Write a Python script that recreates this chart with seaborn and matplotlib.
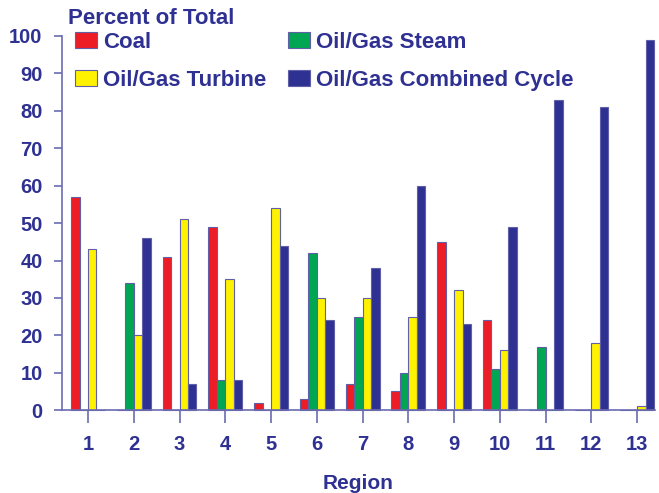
import matplotlib
matplotlib.use("Agg")
import matplotlib.pyplot as plt
import seaborn as sns
import pandas as pd

regions = [str(i) for i in range(1, 14)]
coal = [57, 0, 41, 49, 2, 3, 7, 5, 45, 24, 0, 0, 0]
steam = [0, 34, 0, 8, 0, 42, 25, 10, 0, 11, 17, 0, 0]
turbine = [43, 20, 51, 35, 54, 30, 30, 25, 32, 16, 0, 18, 1]
combined = [0, 46, 7, 8, 44, 24, 38, 60, 23, 49, 83, 81, 99]

series = ["Coal", "Oil/Gas Steam", "Oil/Gas Turbine", "Oil/Gas Combined Cycle"]
colors = ["#EE1C25", "#00A651", "#FFF200", "#2E3192"]
navy = "#2E3192"
axis_col = "#6B6BB0"
edge_col = "#6060A8"

rows = []
for name, vals in zip(series, [coal, steam, turbine, combined]):
    for r, v in zip(regions, vals):
        rows.append({"Region": r, "Type": name, "Value": v})
df = pd.DataFrame(rows)

sns.set_style("white")
plt.rcParams["font.family"] = ["Liberation Sans", "DejaVu Sans"]
plt.rcParams["font.weight"] = "bold"

fig = plt.figure(figsize=(6.59, 4.93), dpi=100)
ax = fig.add_axes([0.094, 0.168, 0.900, 0.759])

sns.barplot(data=df, x="Region", y="Value", hue="Type", hue_order=series,
            palette=colors, saturation=1, width=0.74, edgecolor=edge_col,
            linewidth=0.8, ax=ax, legend=False)

for p in ax.patches:
    p.set_clip_on(False)

ax.set_ylim(0, 100)
ax.set_xlim(-0.57, 12.39)
ax.set_yticks(range(0, 101, 10))
ax.set_xlabel("Region", fontsize=15, fontweight="bold", color=navy, labelpad=14)
ax.set_ylabel("")

for side in ["top", "right"]:
    ax.spines[side].set_visible(False)
for side in ["left", "bottom"]:
    ax.spines[side].set_color(axis_col)
    ax.spines[side].set_linewidth(1.2)

ax.tick_params(axis="y", direction="out", length=6, width=1.2, color=axis_col,
               labelsize=14.5, labelcolor=navy, pad=8, left=True)
ax.tick_params(axis="x", direction="out", length=9, width=1.2, color=axis_col,
               labelsize=14.5, labelcolor=navy, pad=9, bottom=True)
for lab in ax.get_xticklabels() + ax.get_yticklabels():
    lab.set_fontweight("bold")

# legend filled row by row like the original
order = [0, 2, 1, 3]
handles = [plt.Rectangle((0, 0), 1, 1, facecolor=colors[i], edgecolor=edge_col,
                         linewidth=0.8) for i in order]
labels = [series[i] for i in order]
leg = fig.legend(handles, labels, ncol=2, loc="upper left",
                 bbox_to_anchor=(75 / 659, 1 - 32 / 493), frameon=False,
                 prop={"size": 16, "weight": "bold"}, borderpad=0,
                 borderaxespad=0, handlelength=1.0, handleheight=0.7,
                 handletextpad=0.25, columnspacing=1.0, labelspacing=0.75)
for t in leg.get_texts():
    t.set_color(navy)

fig.text(0.103, 0.963, "Percent of Total", fontsize=16, fontweight="bold",
         color=navy, va="center", ha="left")

fig.savefig("out.png", dpi=100)
